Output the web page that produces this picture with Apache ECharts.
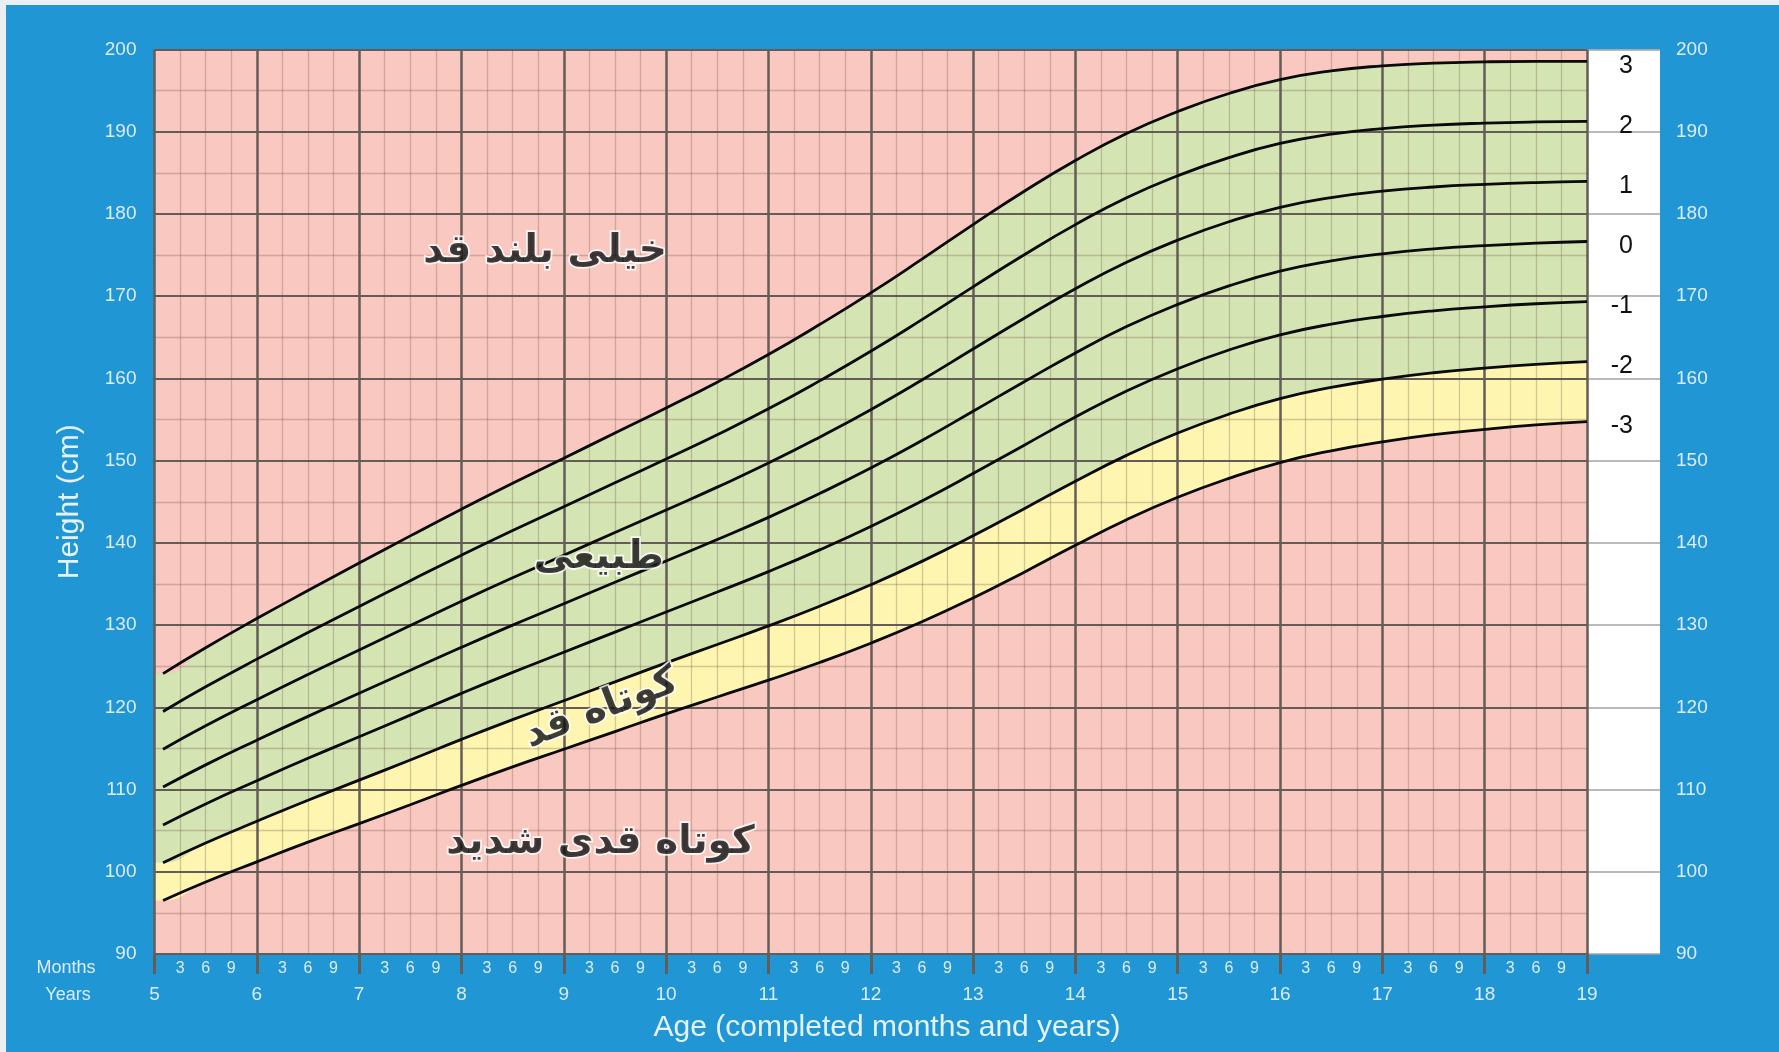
<!DOCTYPE html>
<html>
<head>
<meta charset="utf-8">
<script src="https://cdn.jsdelivr.net/npm/echarts@6/dist/echarts.min.js"></script>
<style>
  html, body { margin: 0; padding: 0; background: #eaeff2; }
  #chart { position: absolute; left: 6px; top: 5px; width: 1773px; height: 1047px; }
</style>
</head>
<body>
<div id="chart"></div>
<script>
// Age in completed months
const ageMonths = [61, 66, 72, 78, 84, 90, 96, 102, 108, 114, 120, 126, 132, 138, 144, 150, 156, 162, 168, 174, 180, 186, 192, 198, 204, 210, 216, 222, 228];

// Height-for-age z-score curves (cm)
const sdNeg3 = [96.5, 98.75, 101.21, 103.6, 105.86, 108.15, 110.5, 112.75, 114.9, 117.05, 119.2, 121.26, 123.3, 125.45, 127.8, 130.4, 133.29, 136.44, 139.7, 142.81, 145.54, 147.85, 149.77, 151.2, 152.29, 153.16, 153.8, 154.34, 154.75];
const sdNeg2 = [101.1, 103.5, 106.14, 108.7, 111.14, 113.6, 116.1, 118.5, 120.8, 123.1, 125.4, 127.64, 129.9, 132.3, 134.9, 137.75, 140.86, 144.16, 147.5, 150.64, 153.36, 155.65, 157.53, 158.9, 159.91, 160.69, 161.25, 161.71, 162.05];
const sdNeg1 = [105.7, 108.25, 111.07, 113.8, 116.42, 119.05, 121.7, 124.25, 126.7, 129.15, 131.6, 134.02, 136.5, 139.15, 142.0, 145.1, 148.43, 151.88, 155.3, 158.47, 161.18, 163.45, 165.29, 166.6, 167.53, 168.22, 168.7, 169.08, 169.35];
const sd0    = [110.3, 113.0, 116.0, 118.9, 121.7, 124.5, 127.3, 130.0, 132.6, 135.2, 137.8, 140.4, 143.1, 146.0, 149.1, 152.45, 156.0, 159.6, 163.1, 166.3, 169.0, 171.25, 173.05, 174.3, 175.15, 175.75, 176.15, 176.45, 176.65];
const sd1    = [114.9, 117.75, 120.93, 124.0, 126.98, 129.95, 132.9, 135.75, 138.5, 141.25, 144.0, 146.78, 149.7, 152.85, 156.2, 159.8, 163.57, 167.32, 170.9, 174.13, 176.82, 179.05, 180.81, 182.0, 182.77, 183.28, 183.6, 183.82, 183.95];
const sd2    = [119.5, 122.5, 125.86, 129.1, 132.26, 135.4, 138.5, 141.5, 144.4, 147.3, 150.2, 153.16, 156.3, 159.7, 163.3, 167.15, 171.14, 175.04, 178.7, 181.96, 184.64, 186.85, 188.57, 189.7, 190.39, 190.81, 191.05, 191.19, 191.25];
const sd3    = [124.1, 127.25, 130.79, 134.2, 137.54, 140.85, 144.1, 147.25, 150.3, 153.35, 156.4, 159.54, 162.9, 166.55, 170.4, 174.5, 178.71, 182.76, 186.5, 189.79, 192.46, 194.65, 196.33, 197.4, 198.01, 198.34, 198.5, 198.56, 198.55];

const curveNames = ['-3', '-2', '-1', '0', '1', '2', '3'];
const curves = [sdNeg3, sdNeg2, sdNeg1, sd0, sd1, sd2, sd3];

const yearTicks = [5, 6, 7, 8, 9, 10, 11, 12, 13, 14, 15, 16, 17, 18, 19];
const monthTicks = [3, 6, 9];
const axisStartMonth = 60;

const regionLabels = ['خیلی بلند قد', 'طبیعی', 'کوتاه قد', 'کوتاه قدی شدید'];
const regionLabelAt = [[105.8, 175.4], [112.1, 138.2], [112.4, 119.8], [112.3, 103.5]];
const regionLabelRotate = [0, 0, 21, 0];

const pts = arr => ageMonths.map((a, i) => [a, arr[i]]);
// bands are shaded from the start of the axis
const bandPts = arr => [[axisStartMonth, arr[0]], ...pts(arr)];

const MAJOR = '#645c57';
const MINOR = 'rgba(105,75,65,0.28)';
const LABEL = '#dcecf8';
const FONT = '"Liberation Sans", Arial, sans-serif';

const chart = echarts.init(document.getElementById('chart'));

const fillSeries = [
  { data: sd3, color: '#d4e4b3' },
  { data: sdNeg2, color: '#fef5b0' },
  { data: sdNeg3, color: '#f9c8c0' }
].map(f => ({
  type: 'line', xAxisIndex: 0, yAxisIndex: 0,
  data: bandPts(f.data), smooth: 0.5, symbol: 'none', silent: true,
  lineStyle: { width: 0 },
  areaStyle: { color: f.color, opacity: 1, origin: 'start' },
  z: 1, animation: false
}));

const lineSeries = curves.map((c, i) => ({
  type: 'line', name: curveNames[i], xAxisIndex: 0, yAxisIndex: 0,
  data: pts(c), smooth: 0.5, symbol: 'none', silent: true,
  lineStyle: { color: '#0a0a0a', width: 2.8 },
  endLabel: {
    show: true, formatter: curveNames[i], color: '#111',
    fontSize: 25, fontFamily: FONT, align: 'right', distance: 46, offset: [0, 5]
  },
  z: 5, animation: false
}));

const textSeries = {
  type: 'scatter', xAxisIndex: 0, yAxisIndex: 0, symbolSize: 0, silent: true, z: 8,
  data: regionLabels.map((t, i) => ({
    value: regionLabelAt[i], name: t,
    label: { rotate: regionLabelRotate[i] }
  })),
  label: {
    show: true, position: 'inside', formatter: p => p.name,
    fontFamily: '"DejaVu Sans", sans-serif', fontWeight: 'bold', fontSize: 39,
    color: '#0d0d0d', textBorderColor: '#ffffff', textBorderWidth: 3.5
  },
  animation: false
};

chart.setOption({
  backgroundColor: '#2096d4',
  animation: false,
  grid: [
    { left: 148.5, right: 192, top: 44.5, bottom: 98, show: true, backgroundColor: '#f9c8c0', borderWidth: 0, z: 0 },
    { left: 1581, width: 73, top: 44.5, bottom: 98, show: true, backgroundColor: '#ffffff', borderWidth: 0, z: 0 }
  ],
  xAxis: [
    {
      type: 'value', gridIndex: 0, position: 'bottom', min: axisStartMonth, max: 228, interval: 12, z: 3,
      axisLine: { show: false },
      axisTick: { show: true, length: 20, lineStyle: { color: MAJOR, width: 3 } },
      axisLabel: {
        margin: 31, color: LABEL, fontSize: 19, fontFamily: FONT,
        formatter: v => (yearTicks.indexOf(v / 12) >= 0 ? String(v / 12) : '')
      },
      splitLine: { show: true, lineStyle: { color: MAJOR, width: 2.5 } },
      minorTick: { show: false, splitNumber: 4 },
      minorSplitLine: { show: true, lineStyle: { color: MINOR, width: 1.3 } }
    },
    {
      type: 'value', gridIndex: 0, position: 'bottom', offset: 0, min: axisStartMonth, max: 228, interval: 3, z: 3,
      axisLine: { show: false }, axisTick: { show: false }, splitLine: { show: false },
      axisLabel: {
        margin: 7, color: LABEL, fontSize: 16, fontFamily: FONT,
        formatter: v => (monthTicks.indexOf(v % 12) >= 0 ? String(v % 12) : '')
      }
    },
    { type: 'value', gridIndex: 1, min: 0, max: 1, show: false }
  ],
  yAxis: [
    {
      type: 'value', gridIndex: 0, min: 90, max: 200, interval: 10, z: 3,
      name: 'Height (cm)', nameLocation: 'middle', nameGap: 70,
      nameTextStyle: { color: '#e6f2fb', fontSize: 30, fontFamily: FONT },
      axisLine: { show: false }, axisTick: { show: false },
      axisLabel: { margin: 18, color: LABEL, fontSize: 19, fontFamily: FONT },
      splitLine: { show: true, lineStyle: { color: MAJOR, width: 2.2 } },
      minorTick: { show: false, splitNumber: 2 },
      minorSplitLine: { show: true, lineStyle: { color: MINOR, width: 1.3 } }
    },
    {
      type: 'value', gridIndex: 1, min: 90, max: 200, interval: 10, position: 'right', z: 3,
      axisLine: { show: false }, axisTick: { show: false },
      axisLabel: { margin: 16, color: LABEL, fontSize: 19, fontFamily: FONT },
      splitLine: { show: true, lineStyle: { color: '#a3a3a3', width: 1.6 } }
    }
  ],
  graphic: [
    { type: 'text', x: 60, y: 963, style: { text: 'Months', fill: LABEL, font: '18px ' + FONT, align: 'center', verticalAlign: 'middle' } },
    { type: 'text', x: 62, y: 990, style: { text: 'Years', fill: LABEL, font: '18px ' + FONT, align: 'center', verticalAlign: 'middle' } },
    { type: 'text', x: 881, y: 1023, style: { text: 'Age (completed months and years)', fill: '#e6f2fb', font: '30px ' + FONT, align: 'center', verticalAlign: 'middle' } }
  ],
  series: [...fillSeries, ...lineSeries, textSeries]
});
</script>
</body>
</html>
